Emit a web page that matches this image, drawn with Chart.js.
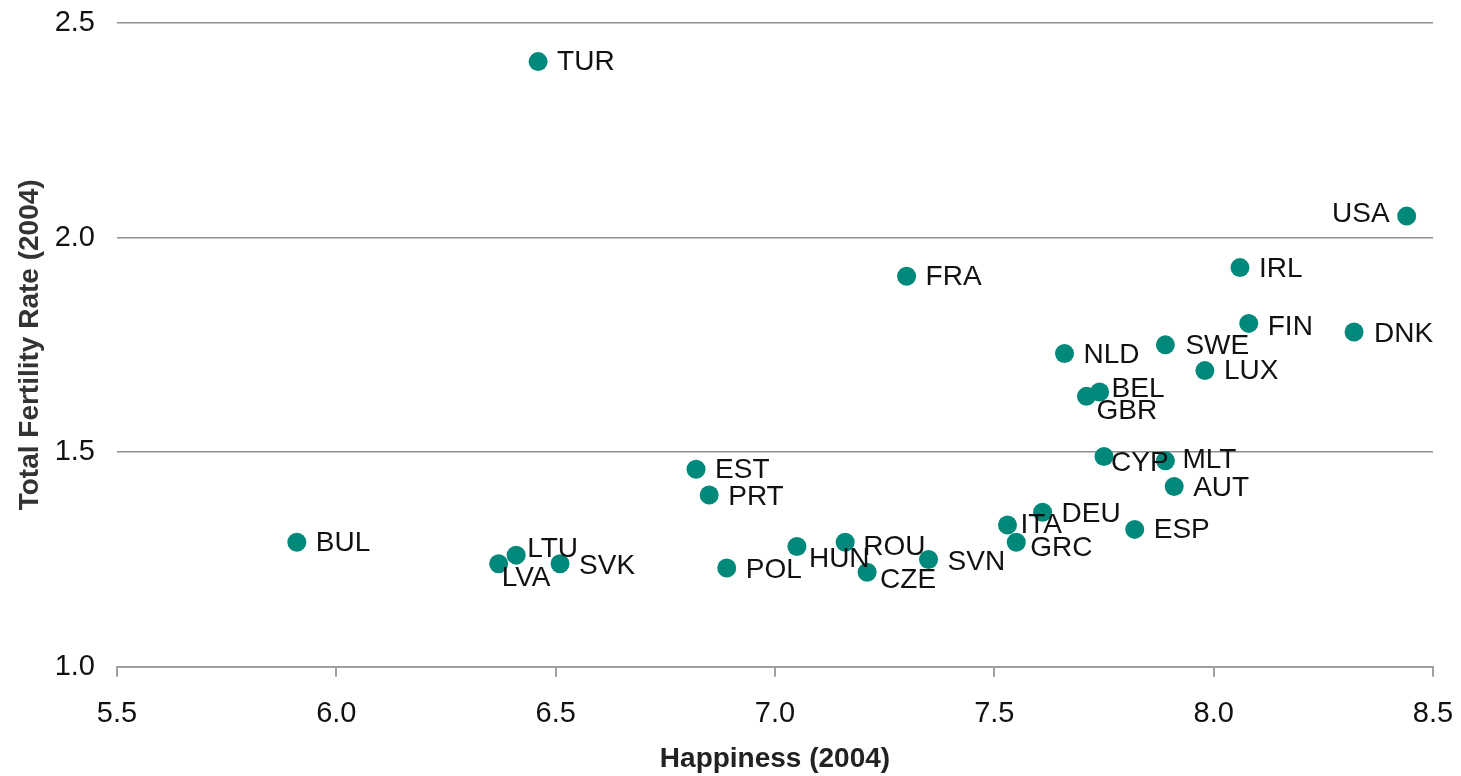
<!DOCTYPE html>
<html>
<head>
<meta charset="utf-8">
<script src="https://cdn.jsdelivr.net/npm/chart.js@4"></script>
<style>
  html, body { margin: 0; padding: 0; background: #ffffff; }
  #c { display: block; }
</style>
</head>
<body>
<canvas id="c" width="1461" height="776"></canvas>
<script>
// ---- Data ----
const countries = ["TUR","USA","FRA","IRL","FIN","DNK","NLD","SWE","LUX","BEL","GBR","CYP","MLT","AUT","DEU","ITA","GRC","ESP","SVN","CZE","ROU","HUN","POL","EST","PRT","BUL","LTU","LVA","SVK"];
const happiness = [6.46, 8.44, 7.30, 8.06, 8.08, 8.32, 7.66, 7.89, 7.98, 7.74, 7.71, 7.75, 7.89, 7.91, 7.61, 7.53, 7.55, 7.82, 7.35, 7.21, 7.16, 7.05, 6.89, 6.82, 6.85, 5.91, 6.41, 6.37, 6.51];
const fertility = [2.41, 2.05, 1.91, 1.93, 1.80, 1.78, 1.73, 1.75, 1.69, 1.64, 1.63, 1.49, 1.48, 1.42, 1.36, 1.33, 1.29, 1.32, 1.25, 1.22, 1.29, 1.28, 1.23, 1.46, 1.40, 1.29, 1.26, 1.24, 1.24];
const xTicks = [5.5, 6.0, 6.5, 7.0, 7.5, 8.0, 8.5];
const yTicks = [1.0, 1.5, 2.0, 2.5];
const xTitle = "Happiness (2004)";
const yTitle = "Total Fertility Rate (2004)";

// ---- Label placement style (pixel offsets from each point) ----
const labelStyle = {
  TUR:[19,1], USA:[-17,-2,'right'], FRA:[19,1], IRL:[19,2], FIN:[19,4], DNK:[20,2],
  NLD:[19,2], SWE:[20,1], LUX:[19,1], BEL:[12,-3], GBR:[10,15], CYP:[7,7], MLT:[17,0],
  AUT:[19,2], DEU:[19,2], ITA:[13,0], GRC:[14,6], ESP:[19,1], SVN:[19,3], CZE:[13,8],
  ROU:[18,5], HUN:[12,13], POL:[19,2], EST:[19,1], PRT:[19,2], BUL:[19,1], LTU:[11,-6],
  LVA:[3,15], SVK:[19,3]
};

const points = countries.map((c, i) => ({ x: happiness[i], y: fertility[i] }));

const pointLabels = {
  id: 'pointLabels',
  afterDatasetsDraw(chart) {
    const ctx = chart.ctx;
    const meta = chart.getDatasetMeta(0);
    ctx.save();
    ctx.font = '28px "Liberation Sans", Arial, sans-serif';
    ctx.fillStyle = '#111111';
    ctx.textBaseline = 'middle';
    meta.data.forEach((el, i) => {
      const name = countries[i];
      const s = labelStyle[name] || [19, 1];
      ctx.textAlign = s[2] || 'left';
      ctx.fillText(name, el.x + s[0], el.y + s[1]);
    });
    ctx.restore();
  }
};

function noOverflow(scale) {
  scale.paddingTop = 0; scale.paddingBottom = 0;
  scale.paddingLeft = 0; scale.paddingRight = 0;
}

new Chart(document.getElementById('c'), {
  type: 'scatter',
  data: {
    datasets: [{
      data: points,
      backgroundColor: '#00897b',
      borderWidth: 0,
      pointRadius: 9.5,
      pointHoverRadius: 9.5
    }]
  },
  options: {
    responsive: false,
    animation: false,
    events: [],
    layout: { padding: { left: 0, right: 28, top: 23, bottom: 0 } },
    plugins: { legend: { display: false }, tooltip: { enabled: false } },
    scales: {
      x: {
        type: 'linear',
        min: 5.5, max: 8.5,
        afterBuildTicks(scale) { scale.ticks = xTicks.map(v => ({ value: v })); },
        afterFit(scale) { scale.height = 109.3; noOverflow(scale); },
        ticks: {
          callback: v => Number(v).toFixed(1),
          font: { family: '"Liberation Sans", Arial, sans-serif', size: 29 },
          color: '#111111',
          padding: 20,
          maxRotation: 0
        },
        grid: { drawOnChartArea: false, drawTicks: true, tickLength: 10, color: '#a0a0a0', lineWidth: 2 },
        border: { display: true, color: '#a0a0a0', width: 2 },
        title: {
          display: true, text: xTitle,
          font: { family: '"Liberation Sans", Arial, sans-serif', size: 28, weight: 'bold' },
          color: '#222222', padding: { top: 0, bottom: 0 }
        }
      },
      y: {
        type: 'linear',
        min: 1.0, max: 2.5,
        afterBuildTicks(scale) { scale.ticks = yTicks.map(v => ({ value: v })); },
        afterFit(scale) { scale.width = 117; noOverflow(scale); },
        ticks: {
          callback: v => Number(v).toFixed(1),
          font: { family: '"Liberation Sans", Arial, sans-serif', size: 29 },
          color: '#111111',
          padding: 22
        },
        grid: { drawTicks: false, color: '#8f8f8f', lineWidth: 1.5 },
        border: { display: false },
        title: {
          display: true, text: yTitle,
          font: { family: '"Liberation Sans", Arial, sans-serif', size: 28, weight: 'bold' },
          color: '#333333', padding: { top: 13, bottom: 0 }
        }
      }
    }
  },
  plugins: [pointLabels]
});
</script>
</body>
</html>
